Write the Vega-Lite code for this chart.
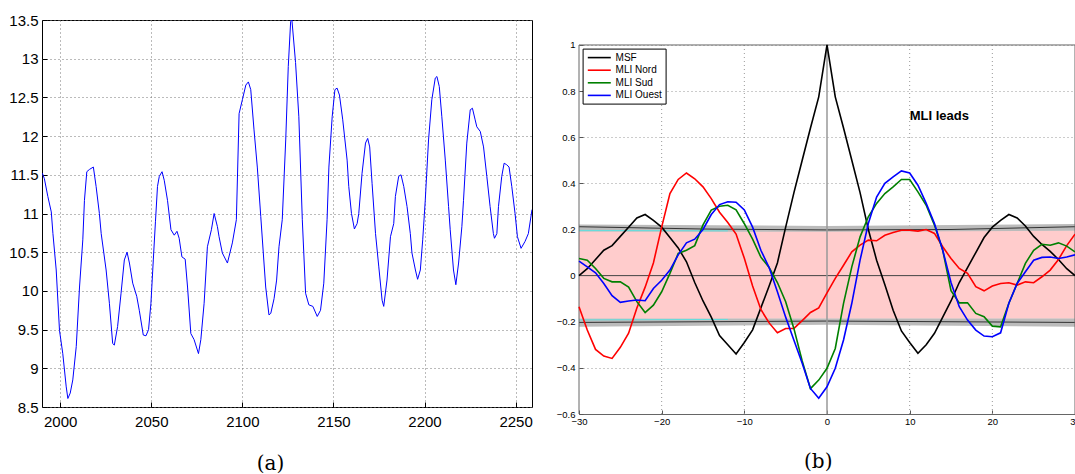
{
  "$schema": "https://vega.github.io/schema/vega-lite/v6.json",
  "background": "white",
  "padding": {"left": 8, "top": 12, "right": 0, "bottom": 0},
  "spacing": 23,
  "resolve": {"legend": {"color": "independent"}},
  "config": {"font": "Liberation Sans", "view": {"stroke": null}},
  "datasets": {
    "amoc": [
      {"year":1990.2,"v":11.52},{"year":1991.3,"v":11.45},{"year":1993.2,"v":11.22},{"year":1995.1,"v":11.02},{"year":1996,"v":10.74},{"year":1997.8,"v":10.27},{"year":1999.6,"v":9.49},{"year":2001.4,"v":9.19},{"year":2003.3,"v":8.76},{"year":2004.2,"v":8.61},{"year":2005.5,"v":8.68},{"year":2006.9,"v":8.85},{"year":2008.8,"v":9.28},{"year":2010.6,"v":10.05},{"year":2012.4,"v":10.66},{"year":2013.3,"v":11.17},{"year":2014.6,"v":11.54},{"year":2016.1,"v":11.57},{"year":2018.2,"v":11.6},{"year":2019.7,"v":11.35},{"year":2021.5,"v":11.0},{"year":2022.5,"v":10.74},{"year":2025.2,"v":10.27},{"year":2027,"v":9.84},{"year":2028.8,"v":9.32},{"year":2029.7,"v":9.3},{"year":2031.5,"v":9.54},{"year":2033.4,"v":9.97},{"year":2035.2,"v":10.4},{"year":2036.7,"v":10.5},{"year":2038,"v":10.36},{"year":2039.8,"v":10.1},{"year":2042,"v":9.93},{"year":2043.4,"v":9.75},{"year":2045.6,"v":9.43},{"year":2047.1,"v":9.42},{"year":2048.5,"v":9.5},{"year":2049.8,"v":9.84},{"year":2051.1,"v":10.4},{"year":2052.3,"v":10.9},{"year":2053.4,"v":11.35},{"year":2054.4,"v":11.48},{"year":2055.9,"v":11.54},{"year":2057.1,"v":11.43},{"year":2058.9,"v":11.17},{"year":2060.8,"v":10.79},{"year":2062.6,"v":10.72},{"year":2064.1,"v":10.77},{"year":2065.3,"v":10.68},{"year":2066.8,"v":10.44},{"year":2068.6,"v":10.41},{"year":2069.9,"v":10.05},{"year":2071.7,"v":9.45},{"year":2073.5,"v":9.37},{"year":2075.9,"v":9.19},{"year":2077.2,"v":9.37},{"year":2079,"v":9.84},{"year":2080.8,"v":10.57},{"year":2083,"v":10.79},{"year":2084.5,"v":11.0},{"year":2086.3,"v":10.83},{"year":2087.2,"v":10.7},{"year":2089,"v":10.49},{"year":2091.8,"v":10.36},{"year":2094.5,"v":10.62},{"year":2096.7,"v":10.92},{"year":2098.2,"v":12.29},{"year":2100,"v":12.47},{"year":2101.9,"v":12.66},{"year":2103.3,"v":12.7},{"year":2104.6,"v":12.6},{"year":2106.4,"v":12.08},{"year":2108.2,"v":11.6},{"year":2110.1,"v":10.96},{"year":2112.8,"v":10.05},{"year":2114.6,"v":9.69},{"year":2115.6,"v":9.71},{"year":2117.4,"v":9.9},{"year":2118.8,"v":10.14},{"year":2120.1,"v":10.57},{"year":2121.9,"v":10.92},{"year":2123.8,"v":11.95},{"year":2125.2,"v":12.9},{"year":2126.5,"v":13.48},{"year":2127.2,"v":13.5},{"year":2129.2,"v":12.95},{"year":2131,"v":12.25},{"year":2132.9,"v":10.92},{"year":2134.7,"v":9.97},{"year":2136.5,"v":9.82},{"year":2138.7,"v":9.8},{"year":2141.1,"v":9.67},{"year":2142.9,"v":9.75},{"year":2144.7,"v":10.1},{"year":2146.5,"v":10.92},{"year":2147.5,"v":11.6},{"year":2149.3,"v":12.25},{"year":2150.8,"v":12.6},{"year":2152,"v":12.62},{"year":2153.3,"v":12.53},{"year":2155.1,"v":12.21},{"year":2157.5,"v":11.69},{"year":2158.4,"v":11.35},{"year":2159.9,"v":11.0},{"year":2161.5,"v":10.8},{"year":2163,"v":10.87},{"year":2163.9,"v":11.0},{"year":2165.7,"v":11.52},{"year":2167.6,"v":11.91},{"year":2168.8,"v":11.97},{"year":2169.9,"v":11.86},{"year":2171.2,"v":11.39},{"year":2173.1,"v":10.74},{"year":2174.9,"v":10.31},{"year":2176.7,"v":9.88},{"year":2177.6,"v":9.8},{"year":2179.4,"v":10.14},{"year":2181.3,"v":10.7},{"year":2183.1,"v":10.87},{"year":2184,"v":11.22},{"year":2185.8,"v":11.48},{"year":2187.1,"v":11.5},{"year":2188.6,"v":11.35},{"year":2190.4,"v":11.09},{"year":2192.2,"v":10.74},{"year":2193.1,"v":10.49},{"year":2195,"v":10.27},{"year":2196.2,"v":10.15},{"year":2197.7,"v":10.27},{"year":2199,"v":10.66},{"year":2200.4,"v":11.17},{"year":2202.2,"v":11.95},{"year":2204,"v":12.47},{"year":2205.9,"v":12.75},{"year":2206.8,"v":12.77},{"year":2208.1,"v":12.64},{"year":2209.5,"v":12.25},{"year":2211.4,"v":11.69},{"year":2213.2,"v":11.09},{"year":2214.1,"v":10.79},{"year":2215.9,"v":10.27},{"year":2217.2,"v":10.08},{"year":2218.7,"v":10.36},{"year":2220.5,"v":10.83},{"year":2221.4,"v":11.17},{"year":2223.2,"v":11.91},{"year":2225.1,"v":12.34},{"year":2226.3,"v":12.36},{"year":2227.8,"v":12.21},{"year":2228.7,"v":12.12},{"year":2230.6,"v":12.06},{"year":2232.4,"v":11.86},{"year":2234.2,"v":11.48},{"year":2236,"v":11.09},{"year":2237.8,"v":10.74},{"year":2238.4,"v":10.68},{"year":2239.7,"v":10.74},{"year":2240.6,"v":11.09},{"year":2242.4,"v":11.48},{"year":2243.7,"v":11.65},{"year":2245.1,"v":11.63},{"year":2246.4,"v":11.6},{"year":2247.9,"v":11.35},{"year":2249.7,"v":11.0},{"year":2251,"v":10.7},{"year":2253,"v":10.55},{"year":2255.2,"v":10.64},{"year":2257,"v":10.74},{"year":2259,"v":11.05}
    ],
    "corr": [
      {"lag":-30,"series":"MSF","r":0},{"lag":-29,"series":"MSF","r":0.03},{"lag":-28,"series":"MSF","r":0.07},{"lag":-27,"series":"MSF","r":0.11},{"lag":-26,"series":"MSF","r":0.13},{"lag":-25,"series":"MSF","r":0.17},{"lag":-24,"series":"MSF","r":0.21},{"lag":-23,"series":"MSF","r":0.25},{"lag":-22,"series":"MSF","r":0.265},{"lag":-21,"series":"MSF","r":0.24},{"lag":-20,"series":"MSF","r":0.21},{"lag":-19,"series":"MSF","r":0.165},{"lag":-18,"series":"MSF","r":0.12},{"lag":-17,"series":"MSF","r":0.06},{"lag":-16,"series":"MSF","r":-0.03},{"lag":-15,"series":"MSF","r":-0.11},{"lag":-14,"series":"MSF","r":-0.18},{"lag":-13,"series":"MSF","r":-0.26},{"lag":-12,"series":"MSF","r":-0.3},{"lag":-11,"series":"MSF","r":-0.34},{"lag":-10,"series":"MSF","r":-0.29},{"lag":-9,"series":"MSF","r":-0.235},{"lag":-8,"series":"MSF","r":-0.14},{"lag":-7,"series":"MSF","r":-0.045},{"lag":-6,"series":"MSF","r":0.055},{"lag":-5,"series":"MSF","r":0.21},{"lag":-4,"series":"MSF","r":0.36},{"lag":-3,"series":"MSF","r":0.5},{"lag":-2,"series":"MSF","r":0.64},{"lag":-1,"series":"MSF","r":0.775},{"lag":0,"series":"MSF","r":1.0},{"lag":1,"series":"MSF","r":0.775},{"lag":2,"series":"MSF","r":0.64},{"lag":3,"series":"MSF","r":0.5},{"lag":4,"series":"MSF","r":0.36},{"lag":5,"series":"MSF","r":0.2},{"lag":6,"series":"MSF","r":0.067},{"lag":7,"series":"MSF","r":-0.04},{"lag":8,"series":"MSF","r":-0.15},{"lag":9,"series":"MSF","r":-0.24},{"lag":10,"series":"MSF","r":-0.29},{"lag":11,"series":"MSF","r":-0.337},{"lag":12,"series":"MSF","r":-0.3},{"lag":13,"series":"MSF","r":-0.25},{"lag":14,"series":"MSF","r":-0.18},{"lag":15,"series":"MSF","r":-0.11},{"lag":16,"series":"MSF","r":-0.03},{"lag":17,"series":"MSF","r":0.035},{"lag":18,"series":"MSF","r":0.1},{"lag":19,"series":"MSF","r":0.165},{"lag":20,"series":"MSF","r":0.21},{"lag":21,"series":"MSF","r":0.24},{"lag":22,"series":"MSF","r":0.265},{"lag":23,"series":"MSF","r":0.25},{"lag":24,"series":"MSF","r":0.215},{"lag":25,"series":"MSF","r":0.17},{"lag":26,"series":"MSF","r":0.135},{"lag":27,"series":"MSF","r":0.105},{"lag":28,"series":"MSF","r":0.07},{"lag":29,"series":"MSF","r":0.03},{"lag":30,"series":"MSF","r":0.0},
      {"lag":-30,"series":"MLI Nord","r":-0.135},{"lag":-29,"series":"MLI Nord","r":-0.236},{"lag":-28,"series":"MLI Nord","r":-0.32},{"lag":-27,"series":"MLI Nord","r":-0.349},{"lag":-26,"series":"MLI Nord","r":-0.359},{"lag":-25,"series":"MLI Nord","r":-0.311},{"lag":-24,"series":"MLI Nord","r":-0.25},{"lag":-23,"series":"MLI Nord","r":-0.14},{"lag":-22,"series":"MLI Nord","r":-0.05},{"lag":-21,"series":"MLI Nord","r":0.055},{"lag":-20,"series":"MLI Nord","r":0.21},{"lag":-19,"series":"MLI Nord","r":0.356},{"lag":-18,"series":"MLI Nord","r":0.417},{"lag":-17,"series":"MLI Nord","r":0.445},{"lag":-16,"series":"MLI Nord","r":0.42},{"lag":-15,"series":"MLI Nord","r":0.385},{"lag":-14,"series":"MLI Nord","r":0.334},{"lag":-13,"series":"MLI Nord","r":0.275},{"lag":-12,"series":"MLI Nord","r":0.23},{"lag":-11,"series":"MLI Nord","r":0.18},{"lag":-10,"series":"MLI Nord","r":0.075},{"lag":-9,"series":"MLI Nord","r":-0.045},{"lag":-8,"series":"MLI Nord","r":-0.147},{"lag":-7,"series":"MLI Nord","r":-0.205},{"lag":-6,"series":"MLI Nord","r":-0.248},{"lag":-5,"series":"MLI Nord","r":-0.229},{"lag":-4,"series":"MLI Nord","r":-0.229},{"lag":-3,"series":"MLI Nord","r":-0.195},{"lag":-2,"series":"MLI Nord","r":-0.16},{"lag":-1,"series":"MLI Nord","r":-0.14},{"lag":0,"series":"MLI Nord","r":-0.075},{"lag":1,"series":"MLI Nord","r":-0.012},{"lag":2,"series":"MLI Nord","r":0.045},{"lag":3,"series":"MLI Nord","r":0.103},{"lag":4,"series":"MLI Nord","r":0.132},{"lag":5,"series":"MLI Nord","r":0.154},{"lag":6,"series":"MLI Nord","r":0.151},{"lag":7,"series":"MLI Nord","r":0.175},{"lag":8,"series":"MLI Nord","r":0.187},{"lag":9,"series":"MLI Nord","r":0.197},{"lag":10,"series":"MLI Nord","r":0.197},{"lag":11,"series":"MLI Nord","r":0.193},{"lag":12,"series":"MLI Nord","r":0.2},{"lag":13,"series":"MLI Nord","r":0.183},{"lag":14,"series":"MLI Nord","r":0.125},{"lag":15,"series":"MLI Nord","r":0.074},{"lag":16,"series":"MLI Nord","r":0.031},{"lag":17,"series":"MLI Nord","r":0.01},{"lag":18,"series":"MLI Nord","r":-0.048},{"lag":19,"series":"MLI Nord","r":-0.066},{"lag":20,"series":"MLI Nord","r":-0.045},{"lag":21,"series":"MLI Nord","r":-0.034},{"lag":22,"series":"MLI Nord","r":-0.031},{"lag":23,"series":"MLI Nord","r":-0.041},{"lag":24,"series":"MLI Nord","r":-0.027},{"lag":25,"series":"MLI Nord","r":-0.031},{"lag":26,"series":"MLI Nord","r":-0.005},{"lag":27,"series":"MLI Nord","r":0.024},{"lag":28,"series":"MLI Nord","r":0.07},{"lag":29,"series":"MLI Nord","r":0.13},{"lag":30,"series":"MLI Nord","r":0.18},
      {"lag":-30,"series":"MLI Sud","r":0.074},{"lag":-29,"series":"MLI Sud","r":0.067},{"lag":-28,"series":"MLI Sud","r":0.031},{"lag":-27,"series":"MLI Sud","r":-0.012},{"lag":-26,"series":"MLI Sud","r":-0.027},{"lag":-25,"series":"MLI Sud","r":-0.027},{"lag":-24,"series":"MLI Sud","r":-0.05},{"lag":-23,"series":"MLI Sud","r":-0.113},{"lag":-22,"series":"MLI Sud","r":-0.16},{"lag":-21,"series":"MLI Sud","r":-0.128},{"lag":-20,"series":"MLI Sud","r":-0.07},{"lag":-19,"series":"MLI Sud","r":0.01},{"lag":-18,"series":"MLI Sud","r":0.096},{"lag":-17,"series":"MLI Sud","r":0.11},{"lag":-16,"series":"MLI Sud","r":0.13},{"lag":-15,"series":"MLI Sud","r":0.22},{"lag":-14,"series":"MLI Sud","r":0.284},{"lag":-13,"series":"MLI Sud","r":0.301},{"lag":-12,"series":"MLI Sud","r":0.305},{"lag":-11,"series":"MLI Sud","r":0.285},{"lag":-10,"series":"MLI Sud","r":0.225},{"lag":-9,"series":"MLI Sud","r":0.158},{"lag":-8,"series":"MLI Sud","r":0.08},{"lag":-7,"series":"MLI Sud","r":0.035},{"lag":-6,"series":"MLI Sud","r":-0.03},{"lag":-5,"series":"MLI Sud","r":-0.113},{"lag":-4,"series":"MLI Sud","r":-0.23},{"lag":-3,"series":"MLI Sud","r":-0.37},{"lag":-2,"series":"MLI Sud","r":-0.49},{"lag":-1,"series":"MLI Sud","r":-0.453},{"lag":0,"series":"MLI Sud","r":-0.402},{"lag":1,"series":"MLI Sud","r":-0.316},{"lag":2,"series":"MLI Sud","r":-0.12},{"lag":3,"series":"MLI Sud","r":0.038},{"lag":4,"series":"MLI Sud","r":0.168},{"lag":5,"series":"MLI Sud","r":0.255},{"lag":6,"series":"MLI Sud","r":0.313},{"lag":7,"series":"MLI Sud","r":0.356},{"lag":8,"series":"MLI Sud","r":0.385},{"lag":9,"series":"MLI Sud","r":0.417},{"lag":10,"series":"MLI Sud","r":0.417},{"lag":11,"series":"MLI Sud","r":0.363},{"lag":12,"series":"MLI Sud","r":0.305},{"lag":13,"series":"MLI Sud","r":0.219},{"lag":14,"series":"MLI Sud","r":0.11},{"lag":15,"series":"MLI Sud","r":-0.065},{"lag":16,"series":"MLI Sud","r":-0.118},{"lag":17,"series":"MLI Sud","r":-0.118},{"lag":18,"series":"MLI Sud","r":-0.164},{"lag":19,"series":"MLI Sud","r":-0.178},{"lag":20,"series":"MLI Sud","r":-0.219},{"lag":21,"series":"MLI Sud","r":-0.222},{"lag":22,"series":"MLI Sud","r":-0.12},{"lag":23,"series":"MLI Sud","r":-0.034},{"lag":24,"series":"MLI Sud","r":0.053},{"lag":25,"series":"MLI Sud","r":0.11},{"lag":26,"series":"MLI Sud","r":0.136},{"lag":27,"series":"MLI Sud","r":0.132},{"lag":28,"series":"MLI Sud","r":0.142},{"lag":29,"series":"MLI Sud","r":0.128},{"lag":30,"series":"MLI Sud","r":0.103},
      {"lag":-30,"series":"MLI Ouest","r":0.063},{"lag":-29,"series":"MLI Ouest","r":0.038},{"lag":-28,"series":"MLI Ouest","r":0.012},{"lag":-27,"series":"MLI Ouest","r":-0.034},{"lag":-26,"series":"MLI Ouest","r":-0.087},{"lag":-25,"series":"MLI Ouest","r":-0.116},{"lag":-24,"series":"MLI Ouest","r":-0.11},{"lag":-23,"series":"MLI Ouest","r":-0.106},{"lag":-22,"series":"MLI Ouest","r":-0.109},{"lag":-21,"series":"MLI Ouest","r":-0.056},{"lag":-20,"series":"MLI Ouest","r":-0.02},{"lag":-19,"series":"MLI Ouest","r":0.024},{"lag":-18,"series":"MLI Ouest","r":0.09},{"lag":-17,"series":"MLI Ouest","r":0.142},{"lag":-16,"series":"MLI Ouest","r":0.158},{"lag":-15,"series":"MLI Ouest","r":0.2},{"lag":-14,"series":"MLI Ouest","r":0.265},{"lag":-13,"series":"MLI Ouest","r":0.308},{"lag":-12,"series":"MLI Ouest","r":0.32},{"lag":-11,"series":"MLI Ouest","r":0.318},{"lag":-10,"series":"MLI Ouest","r":0.285},{"lag":-9,"series":"MLI Ouest","r":0.21},{"lag":-8,"series":"MLI Ouest","r":0.11},{"lag":-7,"series":"MLI Ouest","r":0.035},{"lag":-6,"series":"MLI Ouest","r":-0.07},{"lag":-5,"series":"MLI Ouest","r":-0.18},{"lag":-4,"series":"MLI Ouest","r":-0.28},{"lag":-3,"series":"MLI Ouest","r":-0.38},{"lag":-2,"series":"MLI Ouest","r":-0.489},{"lag":-1,"series":"MLI Ouest","r":-0.532},{"lag":0,"series":"MLI Ouest","r":-0.482},{"lag":1,"series":"MLI Ouest","r":-0.402},{"lag":2,"series":"MLI Ouest","r":-0.279},{"lag":3,"series":"MLI Ouest","r":-0.12},{"lag":4,"series":"MLI Ouest","r":0.067},{"lag":5,"series":"MLI Ouest","r":0.226},{"lag":6,"series":"MLI Ouest","r":0.341},{"lag":7,"series":"MLI Ouest","r":0.4},{"lag":8,"series":"MLI Ouest","r":0.428},{"lag":9,"series":"MLI Ouest","r":0.454},{"lag":10,"series":"MLI Ouest","r":0.445},{"lag":11,"series":"MLI Ouest","r":0.392},{"lag":12,"series":"MLI Ouest","r":0.313},{"lag":13,"series":"MLI Ouest","r":0.226},{"lag":14,"series":"MLI Ouest","r":0.11},{"lag":15,"series":"MLI Ouest","r":-0.03},{"lag":16,"series":"MLI Ouest","r":-0.135},{"lag":17,"series":"MLI Ouest","r":-0.193},{"lag":18,"series":"MLI Ouest","r":-0.236},{"lag":19,"series":"MLI Ouest","r":-0.262},{"lag":20,"series":"MLI Ouest","r":-0.265},{"lag":21,"series":"MLI Ouest","r":-0.248},{"lag":22,"series":"MLI Ouest","r":-0.12},{"lag":23,"series":"MLI Ouest","r":-0.034},{"lag":24,"series":"MLI Ouest","r":0.017},{"lag":25,"series":"MLI Ouest","r":0.067},{"lag":26,"series":"MLI Ouest","r":0.079},{"lag":27,"series":"MLI Ouest","r":0.081},{"lag":28,"series":"MLI Ouest","r":0.074},{"lag":29,"series":"MLI Ouest","r":0.081},{"lag":30,"series":"MLI Ouest","r":0.09}
    ]
  },
  "hconcat": [
    {
      "width": 490,
      "height": 387,
      "view": {"stroke": "#000000", "strokeWidth": 1},
      "title": {"text": "(a)", "orient": "bottom", "anchor": "middle", "frame": "bounds", "font": "DejaVu Serif", "fontSize": 20, "fontWeight": "normal", "color": "#000000", "offset": 24},
      "data": {"name": "amoc"},
      "mark": {"type": "line", "color": "#0000ff", "strokeWidth": 1, "clip": true},
      "encoding": {
        "x": {"field": "year", "type": "quantitative",
          "scale": {"domain": [1990, 2259], "nice": false, "zero": false},
          "axis": {"title": null, "values": [2000, 2050, 2100, 2150, 2200, 2250], "format": "d", "labelFlush": false, "labelFontSize": 15, "labelColor": "#000000", "labelFont": "Liberation Sans", "grid": true, "gridDash": [1, 3], "gridColor": "#777777", "gridWidth": 1, "domain": false, "ticks": true, "tickSize": -5, "tickColor": "#000000", "labelPadding": 12.5}},
        "y": {"field": "v", "type": "quantitative",
          "scale": {"domain": [8.5, 13.5], "nice": false, "zero": false},
          "axis": {"title": null, "values": [8.5, 9, 9.5, 10, 10.5, 11, 11.5, 12, 12.5, 13, 13.5], "format": "~g", "labelFontSize": 15, "labelColor": "#000000", "labelFont": "Liberation Sans", "grid": true, "gridDash": [1, 3], "gridColor": "#777777", "gridWidth": 1, "domain": false, "ticks": true, "tickSize": -5, "tickColor": "#000000", "labelPadding": 9}}
      }
    },
    {
      "width": 496,
      "height": 394,
      "title": {"text": "(b)", "orient": "bottom", "anchor": "middle", "frame": "bounds", "font": "DejaVu Serif", "fontSize": 20, "fontWeight": "normal", "color": "#000000", "offset": 26},
      "layer": [
        {
          "data": {"values": [{"lag": -20}, {"lag": -10}, {"lag": 10}, {"lag": 20}]},
          "mark": {"type": "rule", "color": "#999999", "strokeWidth": 1, "strokeDash": [1, 3]},
          "encoding": {
            "x": {"field": "lag", "type": "quantitative",
              "scale": {"domain": [-30, 30], "nice": false, "zero": false},
              "axis": {"title": null, "values": [-30, -20, -10, 0, 10, 20, 30], "labelFlush": false, "labelFontSize": 9.5, "labelColor": "#000000", "grid": false, "domain": true, "domainColor": "#666666", "tickSize": -4, "tickColor": "#555555", "labelPadding": 6}},
            "y": {"datum": -0.6, "type": "quantitative",
              "scale": {"domain": [-0.6, 1.1083], "nice": false, "zero": false},
              "axis": {"title": null, "values": [-0.6, -0.4, -0.2, 0, 0.2, 0.4, 0.6, 0.8, 1], "format": "~g", "labelFontSize": 9.5, "labelColor": "#000000", "grid": true, "gridDash": [1, 3], "gridColor": "#999999", "domain": false, "tickSize": -4, "tickColor": "#555555", "labelPadding": 8}},
            "y2": {"datum": 1}
          }
        },
        {
          "data": {"values": [{"lag": -30, "lo": -0.187, "hi": 0.19}, {"lag": 30, "lo": -0.187, "hi": 0.196}]},
          "mark": {"type": "area", "color": "#ffcccc", "opacity": 1},
          "encoding": {
            "x": {"field": "lag", "type": "quantitative"},
            "y": {"field": "lo", "type": "quantitative"},
            "y2": {"field": "hi"}
          }
        },
        {
          "data": {"values": [
            {"band": "up", "lag": -30, "lo": 0.19, "hi": 0.222}, {"band": "up", "lag": 0, "lo": 0.19, "hi": 0.215}, {"band": "up", "lag": 30, "lo": 0.195, "hi": 0.224},
            {"band": "down", "lag": -30, "lo": -0.222, "hi": -0.186}, {"band": "down", "lag": 0, "lo": -0.213, "hi": -0.186}, {"band": "down", "lag": 30, "lo": -0.222, "hi": -0.186}
          ]},
          "mark": {"type": "area", "color": "#bbbbbb", "opacity": 1},
          "encoding": {
            "x": {"field": "lag", "type": "quantitative"},
            "y": {"field": "lo", "type": "quantitative"},
            "y2": {"field": "hi"},
            "detail": {"field": "band"}
          }
        },
        {
          "data": {"values": [
            {"edge": "u1", "lag": -30, "lo": 0.212}, {"edge": "u1", "lag": -15, "lo": 0.202}, {"edge": "u1", "lag": 0, "lo": 0.198}, {"edge": "u1", "lag": 15, "lo": 0.2}, {"edge": "u1", "lag": 30, "lo": 0.212},
            {"edge": "d1", "lag": -30, "lo": -0.203}, {"edge": "d1", "lag": 0, "lo": -0.197}, {"edge": "d1", "lag": 30, "lo": -0.203}
          ]},
          "mark": {"type": "line", "color": "#333333", "strokeWidth": 1},
          "encoding": {
            "x": {"field": "lag", "type": "quantitative"},
            "y": {"field": "lo", "type": "quantitative"},
            "detail": {"field": "edge"}
          }
        },
        {
          "data": {"values": [
            {"edge": "c1", "lag": -30, "lo": 0.196}, {"edge": "c1", "lag": -12, "lo": 0.194},
            {"edge": "c2", "lag": -30, "lo": -0.192}, {"edge": "c2", "lag": -12, "lo": -0.19}
          ]},
          "mark": {"type": "line", "color": "#66dddd", "strokeWidth": 1},
          "encoding": {
            "x": {"field": "lag", "type": "quantitative"},
            "y": {"field": "lo", "type": "quantitative"},
            "detail": {"field": "edge"}
          }
        },
        {
          "data": {"values": [{"lo": 0}]},
          "mark": {"type": "rule", "color": "#444444", "strokeWidth": 1},
          "encoding": {"y": {"field": "lo", "type": "quantitative"}}
        },
        {
          "data": {"values": [{"lag": 0, "lag2": 0, "lo": -0.6, "hi": 1}]},
          "mark": {"type": "rule", "color": "#999999", "strokeWidth": 1.5},
          "encoding": {
            "x": {"field": "lag", "type": "quantitative"},
            "y": {"field": "lo", "type": "quantitative"},
            "y2": {"field": "hi"}
          }
        },
        {
          "data": {"values": [
            {"lag": -30, "lag2": -30, "lo": -0.6, "hi": 1},
            {"lag": -30, "lag2": 30, "lo": 1, "hi": 1},
            {"lag": 30, "lag2": 30, "lo": -0.6, "hi": 1}
          ]},
          "mark": {"type": "rule", "color": "#666666", "strokeWidth": 1},
          "encoding": {
            "x": {"field": "lag", "type": "quantitative"},
            "x2": {"field": "lag2"},
            "y": {"field": "lo", "type": "quantitative"},
            "y2": {"field": "hi"}
          }
        },
        {
          "data": {"name": "corr"},
          "mark": {"type": "line", "strokeWidth": 1.6},
          "encoding": {
            "x": {"field": "lag", "type": "quantitative"},
            "y": {"field": "r", "type": "quantitative"},
            "color": {"field": "series", "type": "nominal",
              "scale": {"domain": ["MSF", "MLI Nord", "MLI Sud", "MLI Ouest"], "range": ["#000000", "#ff0000", "#008000", "#0000ff"]},
              "legend": {"title": null, "orient": "none", "legendX": 3.6, "legendY": 28.6, "symbolType": "M-2.3,0L2.3,0", "symbolSize": 100, "symbolStrokeWidth": 1.6, "symbolOffset": 7.7, "labelOffset": 10.3, "labelFontSize": 10, "labelFont": "Liberation Sans", "labelColor": "#000000", "strokeColor": "#000000", "fillColor": "#ffffff", "padding": 3, "rowPadding": 1.6, "cornerRadius": 0}}
          }
        },
        {
          "data": {"values": [{"lag": 10, "r": 0.69, "label": "MLI leads"}]},
          "mark": {"type": "text", "align": "left", "baseline": "middle", "fontSize": 13, "fontWeight": "bold", "font": "Liberation Sans", "color": "#000000"},
          "encoding": {
            "x": {"field": "lag", "type": "quantitative"},
            "y": {"field": "r", "type": "quantitative"},
            "text": {"field": "label"}
          }
        }
      ]
    }
  ]
}
